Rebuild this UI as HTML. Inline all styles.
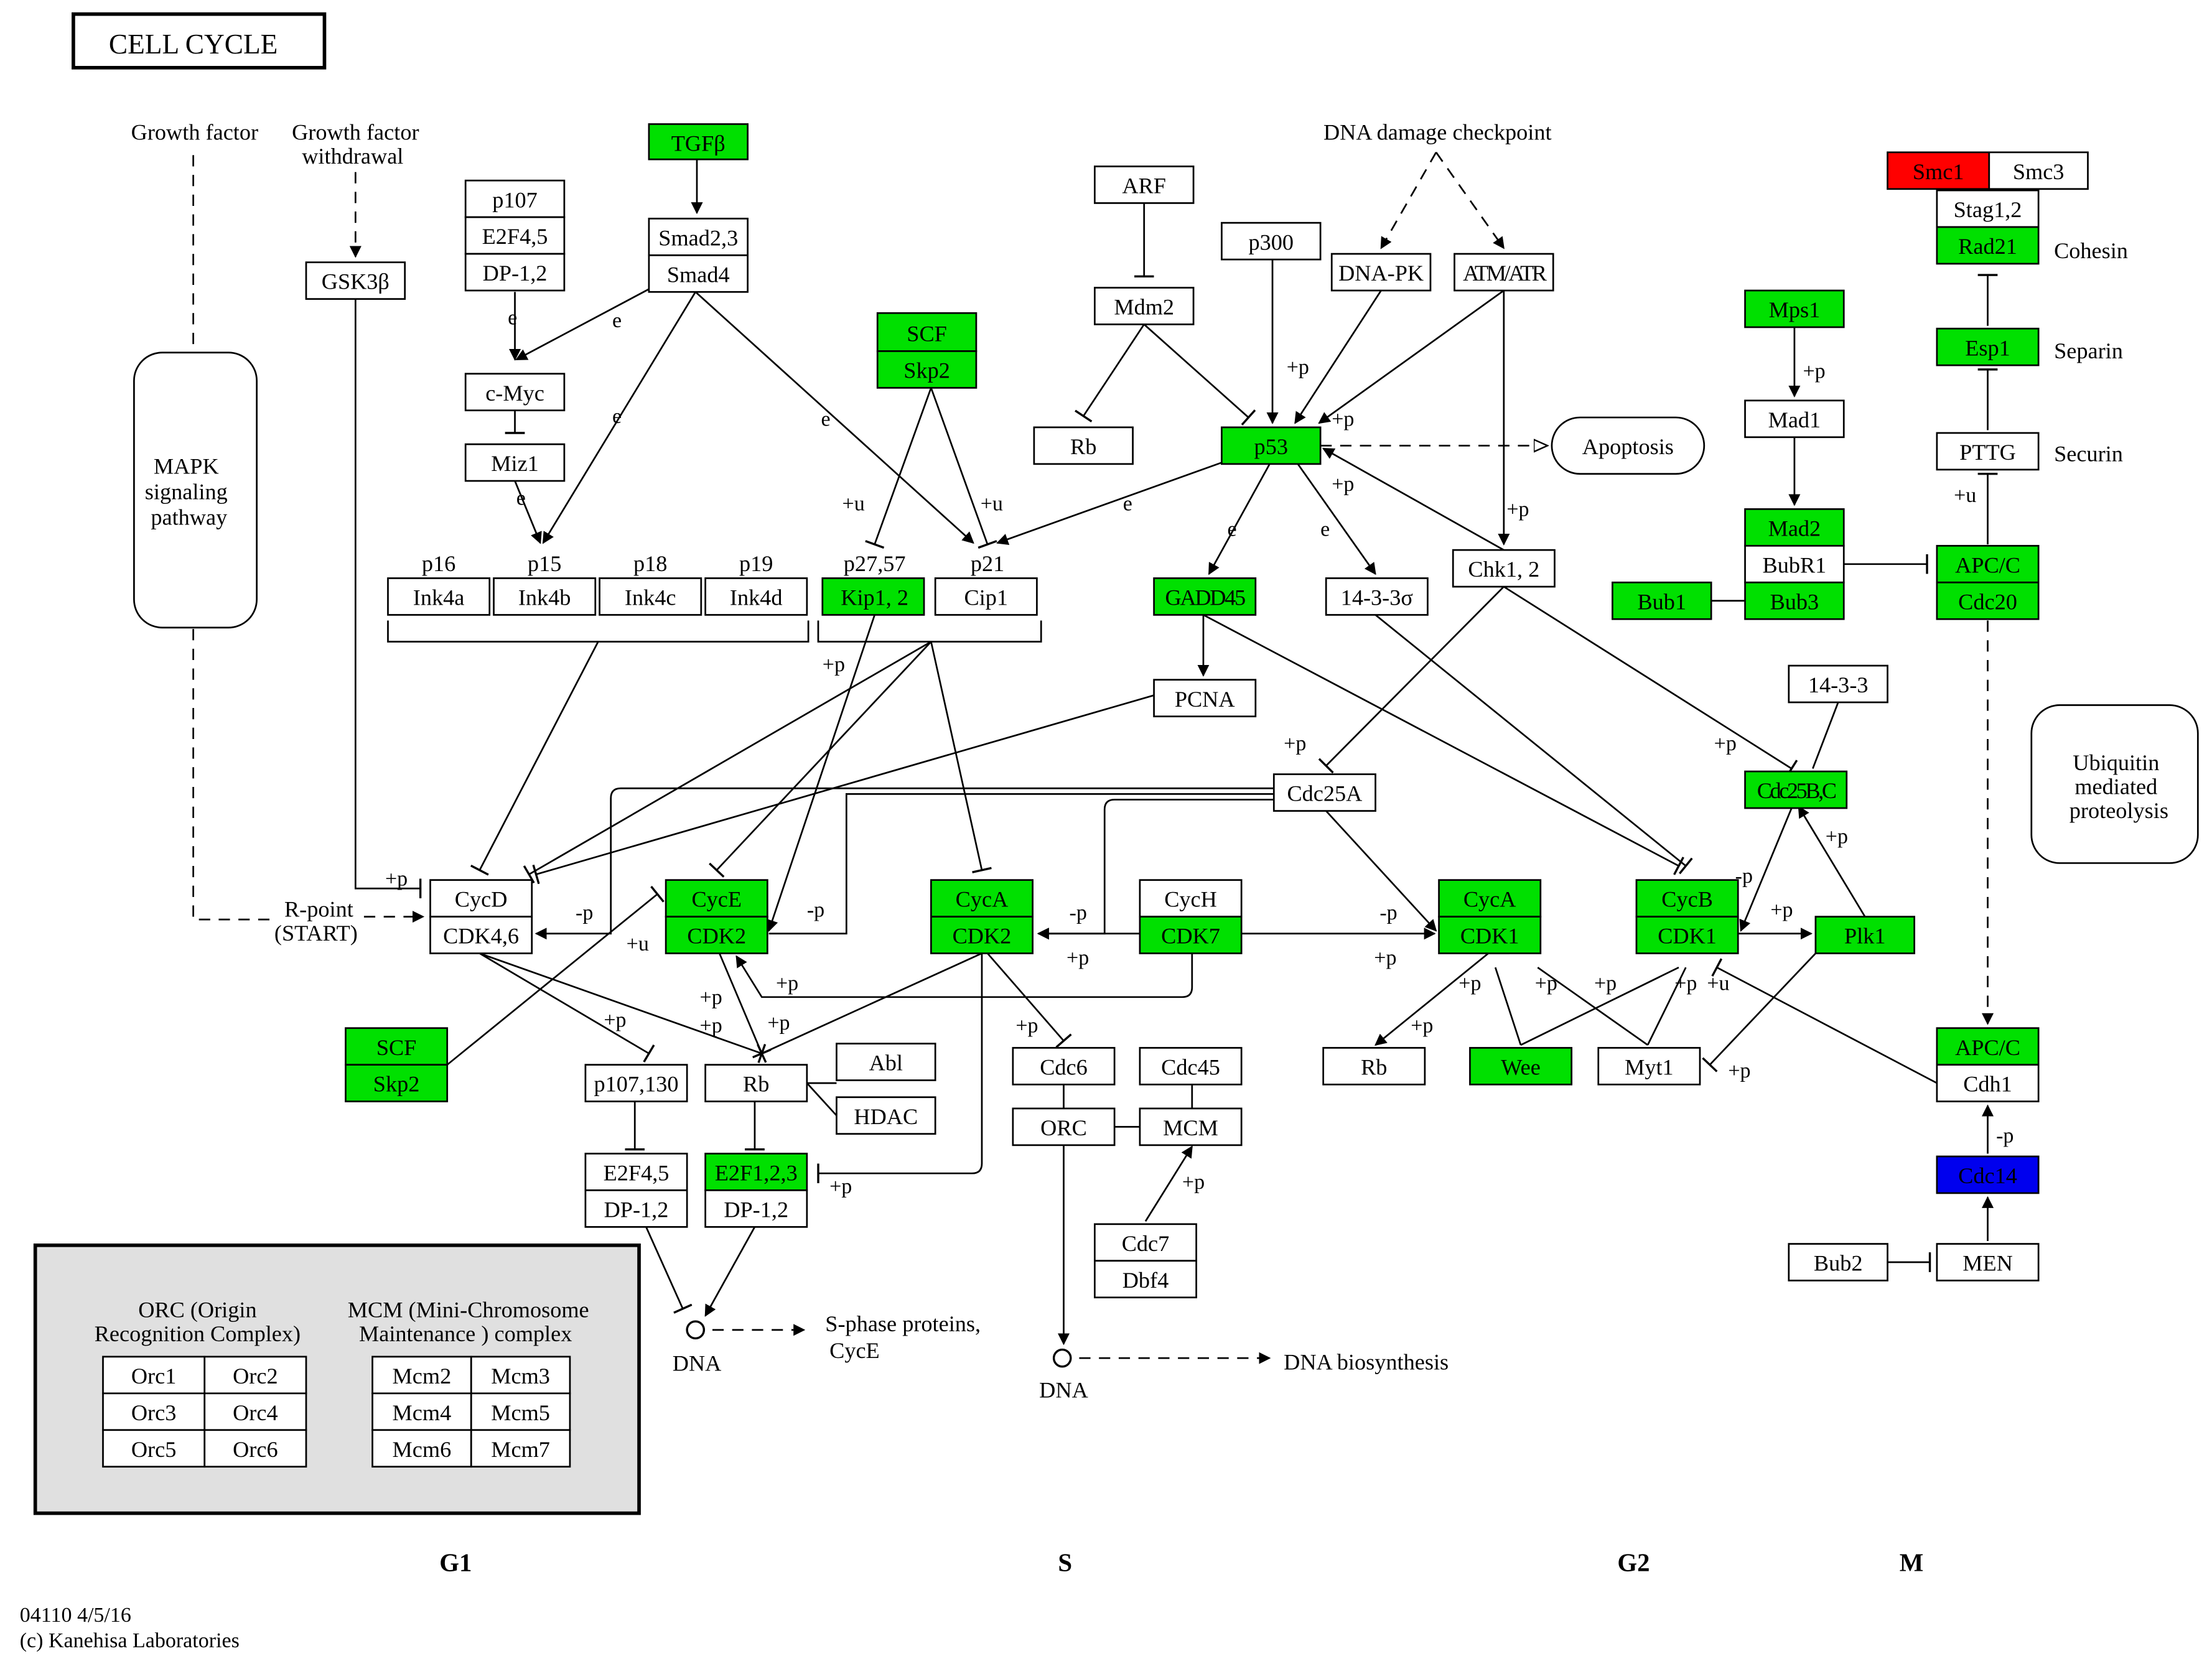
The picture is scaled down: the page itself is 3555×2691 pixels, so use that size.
<!DOCTYPE html>
<html><head><meta charset="utf-8"><style>
html,body{margin:0;padding:0;background:#fff;}
svg{display:block;font-size:16px;font-family:"Liberation Serif",serif;}
text{fill:#000;}
.n rect{stroke:#000;stroke-width:1.2;}
.e{stroke:#000;stroke-width:1.2;fill:none;}
.d{stroke:#000;stroke-width:1.2;fill:none;stroke-dasharray:8,6;}
</style></head><body>
<svg width="3555" height="2691" viewBox="0 0 1568 1187" preserveAspectRatio="none" xmlns="http://www.w3.org/2000/svg">
<defs>
<marker id="a" viewBox="0 0 10 10" refX="9" refY="5" markerWidth="7" markerHeight="7" orient="auto"><path d="M0,0L10,5L0,10z" fill="#000"/></marker>
<marker id="o" viewBox="0 0 10 10" refX="9" refY="5" markerWidth="9" markerHeight="9" orient="auto"><path d="M0,1L9,5L0,9z" fill="#fff" stroke="#000"/></marker>
<marker id="t" viewBox="0 0 4 14" refX="2" refY="7" markerWidth="4" markerHeight="14" orient="auto" markerUnits="userSpaceOnUse"><path d="M2,0L2,14" stroke="#000" stroke-width="1.5"/></marker>
</defs>
<rect width="1568" height="1187" fill="#fff"/>
<!-- title -->
<rect x="52" y="10" width="178" height="38" fill="#fff" stroke="#000" stroke-width="2.5"/>
<text x="137" y="38" text-anchor="middle" font-size="20">CELL  CYCLE</text>
<!-- legend -->
<rect x="25" y="883" width="428" height="190" fill="#e0e0e0" stroke="#000" stroke-width="2.5"/>
<text x="140" y="934" text-anchor="middle">ORC (Origin</text>
<text x="140" y="951" text-anchor="middle">Recognition Complex)</text>
<text x="332" y="934" text-anchor="middle">MCM (Mini-Chromosome</text>
<text x="330" y="951" text-anchor="middle">Maintenance ) complex</text>
<g class="n" fill="#fff">
<rect x="73" y="962" width="72" height="26" fill="#fff"/><rect x="145" y="962" width="72" height="26" fill="#fff"/>
<rect x="73" y="988" width="72" height="26" fill="#fff"/><rect x="145" y="988" width="72" height="26" fill="#fff"/>
<rect x="73" y="1014" width="72" height="26" fill="#fff"/><rect x="145" y="1014" width="72" height="26" fill="#fff"/>
<rect x="264" y="962" width="70" height="26" fill="#fff"/><rect x="334" y="962" width="70" height="26" fill="#fff"/>
<rect x="264" y="988" width="70" height="26" fill="#fff"/><rect x="334" y="988" width="70" height="26" fill="#fff"/>
<rect x="264" y="1014" width="70" height="26" fill="#fff"/><rect x="334" y="1014" width="70" height="26" fill="#fff"/>
</g>
<g text-anchor="middle">
<text x="109" y="981">Orc1</text><text x="181" y="981">Orc2</text>
<text x="109" y="1007">Orc3</text><text x="181" y="1007">Orc4</text>
<text x="109" y="1033">Orc5</text><text x="181" y="1033">Orc6</text>
<text x="299" y="981">Mcm2</text><text x="369" y="981">Mcm3</text>
<text x="299" y="1007">Mcm4</text><text x="369" y="1007">Mcm5</text>
<text x="299" y="1033">Mcm6</text><text x="369" y="1033">Mcm7</text>
</g>

<!-- edges -->
<path class="d" d="M137,110V652H196"/>
<path class="d" d="M252,122V182" marker-end="url(#a)"/>
<path class="d" d="M258,650H300" marker-end="url(#a)"/>
<path class="e" d="M252,212V630H298" marker-end="url(#t)"/>
<path class="e" d="M494,113V151" marker-end="url(#a)"/>
<path class="e" d="M460,205L366,255" marker-end="url(#a)"/>
<path class="e" d="M365,207V255" marker-end="url(#a)"/>
<path class="e" d="M493,207L385,385" marker-end="url(#a)"/>
<path class="e" d="M493,207L690,385" marker-end="url(#a)"/>
<path class="e" d="M365,291V307" marker-end="url(#t)"/>
<path class="e" d="M365,341L383,385" marker-end="url(#a)"/>
<path class="e" d="M660,275L620,386" marker-end="url(#t)"/>
<path class="e" d="M660,275L700,386" marker-end="url(#t)"/>
<path class="e" d="M811,144V196" marker-end="url(#t)"/>
<path class="e" d="M811,230L768,295" marker-end="url(#t)"/>
<path class="e" d="M811,230L885,296" marker-end="url(#t)"/>
<path class="e" d="M902,184V300" marker-end="url(#a)"/>
<path class="d" d="M1018,108L979,176" marker-end="url(#a)"/>
<path class="d" d="M1018,108L1066,176" marker-end="url(#a)"/>
<path class="e" d="M979,206L918,300" marker-end="url(#a)"/>
<path class="e" d="M1066,206L935,300" marker-end="url(#a)"/>
<path class="e" d="M1066,206V386" marker-end="url(#a)"/>
<path class="e" d="M1066,390L938,318" marker-end="url(#a)"/>
<path class="d" d="M936,316H1097" marker-end="url(#o)"/>
<path class="e" d="M866,328L707,385" marker-end="url(#a)"/>
<path class="e" d="M900,329L857,407" marker-end="url(#a)"/>
<path class="e" d="M920,329L975,407" marker-end="url(#a)"/>
<path class="e" d="M853,436V479" marker-end="url(#a)"/>
<path class="e" d="M853,436L1190,614" marker-end="url(#t)"/>
<path class="e" d="M975,436L1195,614" marker-end="url(#t)"/>
<path class="e" d="M1066,416L940,543" marker-end="url(#t)"/>
<path class="e" d="M1066,416L1270,545" marker-end="url(#t)"/>
<path class="e" d="M1303,498L1285,545"/>
<path class="e" d="M1272,232V281" marker-end="url(#a)"/>
<path class="e" d="M1272,310V358" marker-end="url(#a)"/>
<path class="e" d="M1307,400H1366" marker-end="url(#t)"/>
<path class="e" d="M1213,426H1237"/>
<path class="e" d="M1409,231V195" marker-end="url(#t)"/>
<path class="e" d="M1409,305V262" marker-end="url(#t)"/>
<path class="e" d="M1409,386V336" marker-end="url(#t)"/>
<path class="d" d="M1409,440V726" marker-end="url(#a)"/>
<path class="e" d="M1409,818V784" marker-end="url(#a)"/>
<path class="e" d="M1409,880V849" marker-end="url(#a)"/>
<path class="e" d="M1338,895H1368" marker-end="url(#t)"/>
<path class="e" d="M1373,768L1217,686" marker-end="url(#t)"/>
<!-- brackets -->
<path class="e" d="M275,440V455H573V440"/>
<path class="e" d="M580,440V455H738V440"/>
<path class="e" d="M424,455L340,617" marker-end="url(#t)"/>
<path class="e" d="M660,455L375,620" marker-end="url(#t)"/>
<path class="e" d="M660,455L508,617" marker-end="url(#t)"/>
<path class="e" d="M660,455L696,617" marker-end="url(#t)"/>
<path class="e" d="M818,493L380,620" marker-end="url(#t)"/>
<path class="e" d="M620,436L545,660" marker-end="url(#a)"/>
<path class="e" d="M903,559H440Q433,559 433,566V662H380" marker-end="url(#a)"/>
<path class="e" d="M903,567H790Q783,567 783,574V662H736" marker-end="url(#a)"/>
<path class="e" d="M903,563H600V662H545"/>
<path class="e" d="M940,575L1018,660" marker-end="url(#a)"/>
<path class="e" d="M808,662H736" marker-end="url(#a)"/>
<path class="e" d="M880,662H1017" marker-end="url(#a)"/>
<path class="e" d="M845,676V700Q845,707 838,707H540L522,678" marker-end="url(#a)"/>
<path class="e" d="M1232,662H1284" marker-end="url(#a)"/>
<path class="e" d="M1322,650L1275,572" marker-end="url(#a)"/>
<path class="e" d="M1270,573L1234,660" marker-end="url(#a)"/>
<path class="e" d="M1055,676L975,741" marker-end="url(#a)"/>
<path class="e" d="M1055,676H1070M1060,686L1078,741M1090,686L1168,741M1190,686L1078,741M1195,686L1168,741"/>
<path class="e" d="M1287,676L1212,755" marker-end="url(#t)"/>
<path class="e" d="M317,755L466,634" marker-end="url(#t)"/>
<path class="e" d="M340,676L460,747" marker-end="url(#t)"/>
<path class="e" d="M340,676L540,747" marker-end="url(#t)"/>
<path class="e" d="M510,676L540,747" marker-end="url(#t)"/>
<path class="e" d="M696,676L540,747" marker-end="url(#t)"/>
<path class="e" d="M696,676V825Q696,832 689,832H580" marker-end="url(#t)"/>
<path class="e" d="M700,676L754,738" marker-end="url(#t)"/>
<path class="e" d="M450,781V815" marker-end="url(#t)"/>
<path class="e" d="M535,781V815" marker-end="url(#t)"/>
<path class="e" d="M572,768H593M572,768L593,791"/>
<path class="e" d="M458,870L484,928" marker-end="url(#t)"/>
<path class="e" d="M535,870L500,933" marker-end="url(#a)"/>
<path class="d" d="M505,943H570" marker-end="url(#a)"/>
<path class="e" d="M754,769V786M790,799H808M845,769V786"/>
<path class="e" d="M754,812V953" marker-end="url(#a)"/>
<path class="d" d="M765,963H900" marker-end="url(#a)"/>
<path class="e" d="M812,866L845,813" marker-end="url(#a)"/>
<circle cx="493" cy="943" r="6" fill="#fff" stroke="#000" stroke-width="1.5"/>
<circle cx="753" cy="963" r="6" fill="#fff" stroke="#000" stroke-width="1.5"/>

<!-- rounded boxes -->
<rect x="95" y="250" width="87" height="195" rx="20" fill="#fff" stroke="#000" stroke-width="1.2"/>
<text x="132" y="336" text-anchor="middle">MAPK</text><text x="132" y="354" text-anchor="middle">signaling</text><text x="134" y="372" text-anchor="middle">pathway</text>
<rect x="1100" y="296" width="108" height="40" rx="20" fill="#fff" stroke="#000" stroke-width="1.2"/>
<text x="1154" y="322" text-anchor="middle">Apoptosis</text>
<rect x="1440" y="500" width="118" height="112" rx="20" fill="#fff" stroke="#000" stroke-width="1.2"/>
<text x="1500" y="546" text-anchor="middle">Ubiquitin</text><text x="1500" y="563" text-anchor="middle">mediated</text><text x="1502" y="580" text-anchor="middle">proteolysis</text>

<!-- nodes -->
<g class="n">
<rect x="460" y="88" width="70" height="25" fill="#00e000"/>
<rect x="460" y="155" width="70" height="26" fill="#fff"/><rect x="460" y="181" width="70" height="26" fill="#fff"/>
<rect x="330" y="128" width="70" height="26" fill="#fff"/><rect x="330" y="154" width="70" height="26" fill="#fff"/><rect x="330" y="180" width="70" height="26" fill="#fff"/>
<rect x="217" y="186" width="70" height="26" fill="#fff"/>
<rect x="330" y="265" width="70" height="26" fill="#fff"/>
<rect x="330" y="315" width="70" height="26" fill="#fff"/>
<rect x="776" y="118" width="70" height="26" fill="#fff"/>
<rect x="776" y="204" width="70" height="26" fill="#fff"/>
<rect x="733" y="303" width="70" height="26" fill="#fff"/>
<rect x="866" y="158" width="70" height="26" fill="#fff"/>
<rect x="944" y="180" width="70" height="26" fill="#fff"/>
<rect x="1031" y="180" width="70" height="26" fill="#fff"/>
<rect x="622" y="222" width="70" height="27" fill="#00e000"/><rect x="622" y="249" width="70" height="26" fill="#00e000"/>
<rect x="866" y="303" width="70" height="26" fill="#00e000"/>
<rect x="1338" y="108" width="72" height="26" fill="#ff0000"/><rect x="1410" y="108" width="70" height="26" fill="#fff"/>
<rect x="1373" y="135" width="72" height="26" fill="#fff"/><rect x="1373" y="161" width="72" height="26" fill="#00e000"/>
<rect x="1237" y="206" width="70" height="26" fill="#00e000"/>
<rect x="1373" y="233" width="72" height="26" fill="#00e000"/>
<rect x="1237" y="284" width="70" height="26" fill="#fff"/>
<rect x="1373" y="307" width="72" height="26" fill="#fff"/>
<rect x="1237" y="361" width="70" height="26" fill="#00e000"/><rect x="1237" y="387" width="70" height="26" fill="#fff"/><rect x="1237" y="413" width="70" height="26" fill="#00e000"/>
<rect x="1143" y="413" width="70" height="26" fill="#00e000"/>
<rect x="1373" y="387" width="72" height="26" fill="#00e000"/><rect x="1373" y="413" width="72" height="26" fill="#00e000"/>
<rect x="275" y="410" width="72" height="26" fill="#fff"/><rect x="350" y="410" width="72" height="26" fill="#fff"/><rect x="425" y="410" width="72" height="26" fill="#fff"/><rect x="500" y="410" width="72" height="26" fill="#fff"/>
<rect x="583" y="410" width="72" height="26" fill="#00e000"/><rect x="663" y="410" width="72" height="26" fill="#fff"/>
<rect x="818" y="410" width="72" height="26" fill="#00e000"/>
<rect x="940" y="410" width="72" height="26" fill="#fff"/>
<rect x="1030" y="390" width="72" height="26" fill="#fff"/>
<rect x="818" y="482" width="72" height="26" fill="#fff"/>
<rect x="1268" y="472" width="70" height="26" fill="#fff"/>
<rect x="1237" y="547" width="72" height="26" fill="#00e000"/>
<rect x="903" y="549" width="72" height="26" fill="#fff"/>
<rect x="305" y="624" width="72" height="26" fill="#fff"/><rect x="305" y="650" width="72" height="26" fill="#fff"/>
<rect x="472" y="624" width="72" height="26" fill="#00e000"/><rect x="472" y="650" width="72" height="26" fill="#00e000"/>
<rect x="660" y="624" width="72" height="26" fill="#00e000"/><rect x="660" y="650" width="72" height="26" fill="#00e000"/>
<rect x="808" y="624" width="72" height="26" fill="#fff"/><rect x="808" y="650" width="72" height="26" fill="#00e000"/>
<rect x="1020" y="624" width="72" height="26" fill="#00e000"/><rect x="1020" y="650" width="72" height="26" fill="#00e000"/>
<rect x="1160" y="624" width="72" height="26" fill="#00e000"/><rect x="1160" y="650" width="72" height="26" fill="#00e000"/>
<rect x="1287" y="650" width="70" height="26" fill="#00e000"/>
<rect x="245" y="729" width="72" height="26" fill="#00e000"/><rect x="245" y="755" width="72" height="26" fill="#00e000"/>
<rect x="415" y="755" width="72" height="26" fill="#fff"/>
<rect x="500" y="755" width="72" height="26" fill="#fff"/>
<rect x="593" y="740" width="70" height="26" fill="#fff"/><rect x="593" y="778" width="70" height="26" fill="#fff"/>
<rect x="718" y="743" width="72" height="26" fill="#fff"/><rect x="808" y="743" width="72" height="26" fill="#fff"/>
<rect x="718" y="786" width="72" height="26" fill="#fff"/><rect x="808" y="786" width="72" height="26" fill="#fff"/>
<rect x="415" y="818" width="72" height="26" fill="#fff"/><rect x="415" y="844" width="72" height="26" fill="#fff"/>
<rect x="500" y="818" width="72" height="26" fill="#00e000"/><rect x="500" y="844" width="72" height="26" fill="#fff"/>
<rect x="776" y="868" width="72" height="26" fill="#fff"/><rect x="776" y="894" width="72" height="26" fill="#fff"/>
<rect x="938" y="743" width="72" height="26" fill="#fff"/>
<rect x="1042" y="743" width="72" height="26" fill="#00e000"/>
<rect x="1133" y="743" width="72" height="26" fill="#fff"/>
<rect x="1373" y="729" width="72" height="26" fill="#00e000"/><rect x="1373" y="755" width="72" height="26" fill="#fff"/>
<rect x="1373" y="820" width="72" height="26" fill="#0000ee"/>
<rect x="1268" y="882" width="70" height="26" fill="#fff"/><rect x="1373" y="882" width="72" height="26" fill="#fff"/>
</g>
<g text-anchor="middle">
<text x="495" y="107">TGFβ</text>
<text x="495" y="174">Smad2,3</text><text x="495" y="200">Smad4</text>
<text x="365" y="147">p107</text><text x="365" y="173">E2F4,5</text><text x="365" y="199">DP-1,2</text>
<text x="252" y="205">GSK3β</text>
<text x="365" y="284">c-Myc</text><text x="365" y="334">Miz1</text>
<text x="811" y="137">ARF</text><text x="811" y="223">Mdm2</text><text x="768" y="322">Rb</text>
<text x="901" y="177">p300</text><text x="979" y="199">DNA-PK</text><text x="1066" y="199" letter-spacing="-1.5">ATM/ATR</text>
<text x="657" y="242">SCF</text><text x="657" y="268">Skp2</text>
<text x="901" y="322">p53</text>
<text x="1374" y="127">Smc1</text><text x="1445" y="127">Smc3</text>
<text x="1409" y="154">Stag1,2</text><text x="1409" y="180">Rad21</text>
<text x="1272" y="225">Mps1</text><text x="1409" y="252">Esp1</text>
<text x="1272" y="303">Mad1</text><text x="1409" y="326">PTTG</text>
<text x="1272" y="380">Mad2</text><text x="1272" y="406">BubR1</text><text x="1272" y="432">Bub3</text>
<text x="1178" y="432">Bub1</text>
<text x="1409" y="406">APC/C</text><text x="1409" y="432">Cdc20</text>
<text x="311" y="405">p16</text><text x="386" y="405">p15</text><text x="461" y="405">p18</text><text x="536" y="405">p19</text>
<text x="311" y="429">Ink4a</text><text x="386" y="429">Ink4b</text><text x="461" y="429">Ink4c</text><text x="536" y="429">Ink4d</text>
<text x="620" y="405">p27,57</text><text x="700" y="405">p21</text>
<text x="620" y="429">Kip1, 2</text><text x="699" y="429">Cip1</text>
<text x="854" y="429" letter-spacing="-1">GADD45</text>
<text x="976" y="429">14-3-3σ</text>
<text x="1066" y="409">Chk1, 2</text>
<text x="854" y="501">PCNA</text>
<text x="1303" y="491">14-3-3</text>
<text x="1273" y="566" letter-spacing="-1.5">Cdc25B,C</text>
<text x="939" y="568">Cdc25A</text>
<text x="341" y="643">CycD</text><text x="341" y="669">CDK4,6</text>
<text x="508" y="643">CycE</text><text x="508" y="669">CDK2</text>
<text x="696" y="643">CycA</text><text x="696" y="669">CDK2</text>
<text x="844" y="643">CycH</text><text x="844" y="669">CDK7</text>
<text x="1056" y="643">CycA</text><text x="1056" y="669">CDK1</text>
<text x="1196" y="643">CycB</text><text x="1196" y="669">CDK1</text>
<text x="1322" y="669">Plk1</text>
<text x="281" y="748">SCF</text><text x="281" y="774">Skp2</text>
<text x="451" y="774">p107,130</text><text x="536" y="774">Rb</text>
<text x="628" y="759">Abl</text><text x="628" y="797">HDAC</text>
<text x="754" y="762">Cdc6</text><text x="844" y="762">Cdc45</text>
<text x="754" y="805">ORC</text><text x="844" y="805">MCM</text>
<text x="451" y="837">E2F4,5</text><text x="451" y="863">DP-1,2</text>
<text x="536" y="837">E2F1,2,3</text><text x="536" y="863">DP-1,2</text>
<text x="812" y="887">Cdc7</text><text x="812" y="913">Dbf4</text>
<text x="974" y="762">Rb</text><text x="1078" y="762">Wee</text><text x="1169" y="762">Myt1</text>
<text x="1409" y="748">APC/C</text><text x="1409" y="774">Cdh1</text>
<text x="1409" y="839">Cdc14</text>
<text x="1303" y="901">Bub2</text><text x="1409" y="901">MEN</text>
<text x="138" y="99">Growth factor</text><text x="252" y="99">Growth factor</text><text x="250" y="116">withdrawal</text>
<text x="1019" y="99">DNA damage checkpoint</text>
<text x="226" y="650">R-point</text><text x="224" y="667">(START)</text>
<text x="494" y="972">DNA</text><text x="754" y="991">DNA</text>
<text x="323" y="1114" font-weight="bold" font-size="18">G1</text>
<text x="755" y="1114" font-weight="bold" font-size="18">S</text>
<text x="1158" y="1114" font-weight="bold" font-size="18">G2</text>
<text x="1355" y="1114" font-weight="bold" font-size="18">M</text>
</g>
<text x="1456" y="183">Cohesin</text><text x="1456" y="254">Separin</text><text x="1456" y="327">Securin</text>
<text x="585" y="944">S-phase proteins,</text><text x="588" y="963">CycE</text>
<text x="910" y="971">DNA biosynthesis</text>
<text x="14" y="1150" font-size="15">04110 4/5/16</text>
<text x="14" y="1168" font-size="15">(c) Kanehisa Laboratories</text>
<!-- small labels -->
<g font-size="15">
<text x="360" y="230">e</text><text x="434" y="232">e</text><text x="434" y="300">e</text><text x="582" y="302">e</text><text x="366" y="358">e</text>
<text x="597" y="362">+u</text><text x="695" y="362">+u</text>
<text x="912" y="265">+p</text><text x="944" y="302">+p</text><text x="944" y="348">+p</text>
<text x="1068" y="366">+p</text><text x="796" y="362">e</text><text x="870" y="380">e</text><text x="936" y="380">e</text>
<text x="1278" y="268">+p</text><text x="1385" y="356">+u</text>
<text x="583" y="476">+p</text><text x="910" y="532">+p</text><text x="1215" y="532">+p</text><text x="1294" y="598">+p</text>
<text x="1230" y="626">-p</text><text x="1255" y="650">+p</text>
<text x="273" y="628">+p</text><text x="408" y="652">-p</text><text x="444" y="674">+u</text><text x="572" y="650">-p</text>
<text x="758" y="652">-p</text><text x="756" y="684">+p</text><text x="978" y="652">-p</text><text x="974" y="684">+p</text>
<text x="550" y="702">+p</text><text x="428" y="728">+p</text><text x="496" y="712">+p</text><text x="496" y="732">+p</text><text x="544" y="730">+p</text>
<text x="720" y="732">+p</text><text x="838" y="843">+p</text><text x="588" y="846">+p</text>
<text x="1000" y="732">+p</text><text x="1034" y="702">+p</text><text x="1088" y="702">+p</text><text x="1130" y="702">+p</text><text x="1187" y="702">+p</text><text x="1210" y="702">+u</text>
<text x="1225" y="764">+p</text><text x="1415" y="810">-p</text>
</g>
</svg>
</body></html>
